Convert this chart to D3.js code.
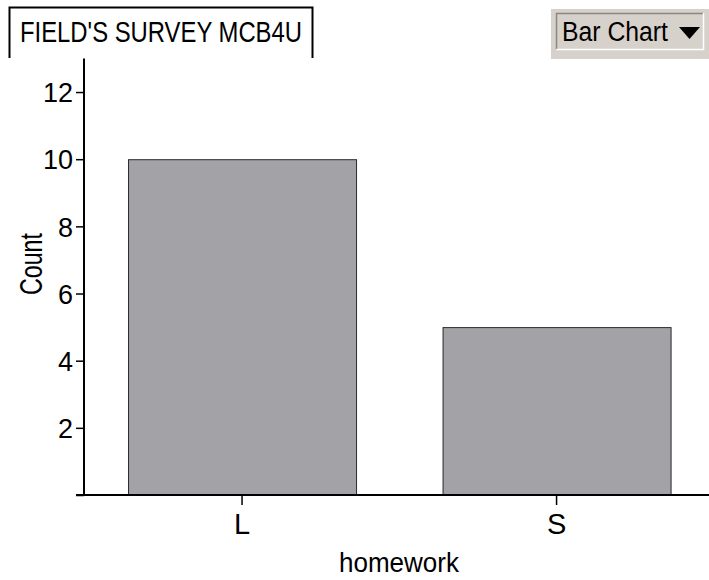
<!DOCTYPE html>
<html><head><meta charset="utf-8">
<script src="https://cdn.jsdelivr.net/npm/d3@7"></script>
<style>
html,body{margin:0;padding:0;background:#fff;}
svg{display:block;font-family:"Liberation Sans",Arial,sans-serif;}
</style></head>
<body>
<svg id="chart" width="709" height="580"></svg>
<script>
const categories = ["L", "S"];
const counts = [10, 5];
const yTicks = [2, 4, 6, 8, 10, 12];
const title = "FIELD'S SURVEY MCB4U";
const xLabel = "homework";
const yLabel = "Count";
const menuLabel = "Bar Chart";

const svg = d3.select("#chart");
const base = 495, axisX = 84;
const FONT = "Liberation Sans, Arial, sans-serif";

const y = d3.scaleLinear().domain([0, 13]).range([base, base - 13 * 33.58]);
const x = d3.scaleBand().domain(categories).range([84, 714.6]).paddingInner(0.275).paddingOuter(0.14);

// bars
svg.append("g").selectAll("rect").data(categories).join("rect")
  .attr("x", d => x(d) + 0.5)
  .attr("y", (d, i) => y(counts[i]) + 0.5)
  .attr("width", x.bandwidth())
  .attr("height", (d, i) => y(0) - y(counts[i]))
  .attr("fill", "#a3a2a7")
  .attr("stroke", "#2a2a2a")
  .attr("stroke-width", 1);

// y axis
const yAxis = d3.axisLeft(y).tickValues([0].concat(yTicks)).tickSize(8).tickPadding(3)
  .tickFormat(d => d === 0 ? "" : d);
const gy = svg.append("g").attr("transform", `translate(${axisX},0)`).call(yAxis);
gy.select(".domain").remove();
gy.append("line").attr("x1", 0).attr("x2", 0).attr("y1", y(13)).attr("y2", y(0))
  .attr("stroke", "#000").attr("stroke-width", 2);
gy.selectAll(".tick line").attr("stroke", "#000").attr("stroke-width", 1.5);
gy.selectAll(".tick text").attr("font-size", 27).attr("fill", "#000")
  .attr("font-family", FONT).attr("dy", "0.36em");

// x axis
const xAxis = d3.axisBottom(x).tickSize(10).tickPadding(10);
const gx = svg.append("g").attr("transform", `translate(0,${base})`).call(xAxis);
gx.select(".domain").remove();
gx.append("line").attr("x1", 76).attr("x2", 709).attr("y1", 0).attr("y2", 0)
  .attr("stroke", "#000").attr("stroke-width", 2);
gx.selectAll(".tick line").attr("stroke", "#000").attr("stroke-width", 1.5);
gx.selectAll(".tick text").attr("font-size", 29).attr("fill", "#000")
  .attr("font-family", FONT).attr("y", 39).attr("dy", 0);

// axis titles
svg.append("text").attr("x", 399).attr("y", 572).attr("text-anchor", "middle")
  .attr("font-size", 28).attr("textLength", 120).attr("lengthAdjust", "spacingAndGlyphs")
  .text(xLabel);
svg.append("text").attr("transform", "translate(42,264) rotate(-90)").attr("text-anchor", "middle")
  .attr("font-size", 31).attr("textLength", 62).attr("lengthAdjust", "spacingAndGlyphs").text(yLabel);

// title box
svg.append("path").attr("d", "M9.5,58 V7.5 H312.5 V58").attr("fill", "none")
  .attr("stroke", "#000").attr("stroke-width", 2);
svg.append("text").attr("x", 20).attr("y", 42).attr("font-size", 30)
  .attr("textLength", 282).attr("lengthAdjust", "spacingAndGlyphs").text(title);

// menu button
const btn = svg.append("g");
btn.append("rect").attr("x", 551).attr("y", 9).attr("width", 158).attr("height", 50).attr("fill", "#d6d1ca");
btn.append("path").attr("d", "M556.5,49 V13.5 H703").attr("fill", "none").attr("stroke", "#8a8782").attr("stroke-width", 1.5);
btn.append("path").attr("d", "M556.5,49.5 H703.5 V13").attr("fill", "none").attr("stroke", "#ffffff").attr("stroke-width", 1.5);
btn.append("text").attr("x", 562).attr("y", 41).attr("font-size", 27)
  .attr("textLength", 106).attr("lengthAdjust", "spacingAndGlyphs").text(menuLabel);
btn.append("path").attr("d", "M679,27 H700 L689.5,39 Z").attr("fill", "#000");
</script>
</body></html>
